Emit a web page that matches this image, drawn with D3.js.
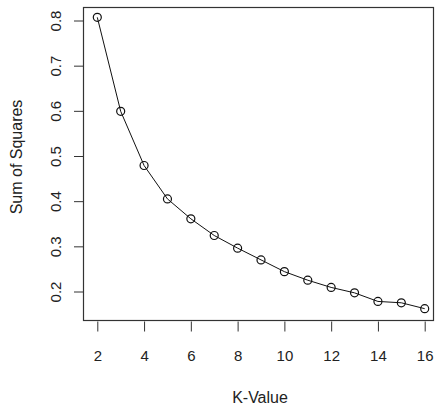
<!DOCTYPE html>
<html>
<head>
<meta charset="utf-8">
<script src="https://cdn.jsdelivr.net/npm/d3@7"></script>
<style>
  body { margin: 0; background: #fff; }
  svg { display: block; }
  text { font-family: "Liberation Sans", Arial, sans-serif; fill: #222; }
</style>
</head>
<body>
<svg id="chart" width="435" height="406"></svg>
<script>
// elbow curve values
const kValues = [2, 3, 4, 5, 6, 7, 8, 9, 10, 11, 12, 13, 14, 15, 16];
const sumSquares = [0.807, 0.599, 0.479, 0.405, 0.361, 0.324, 0.296, 0.270, 0.244, 0.225, 0.209, 0.197, 0.178, 0.175, 0.162];
const xTicks = [2, 4, 6, 8, 10, 12, 14, 16];
const yTicks = [0.2, 0.3, 0.4, 0.5, 0.6, 0.7, 0.8];

const svg = d3.select('#chart');

// plot box (right edge runs off the picture like in the reference)
const box = {left: 83.5, right: 433.5, top: 7.5, bottom: 320.5};

const x = d3.scaleLinear()
    .domain([2, 16])
    .range([97.3, 424.7]);

const y = d3.scaleLinear()
    .domain([0.2, 0.8])
    .range([291.5, 20.5]);

//x axis ticks below the box
const xAxis = d3.axisBottom(x)
    .tickValues(xTicks)
    .tickSize(10)
    .tickPadding(19)
    .tickFormat(d3.format('d'));

const gx = svg.append('g')
    .attr('transform', `translate(0,${box.bottom + 1})`)
    .call(xAxis);
gx.select('.domain').remove();
gx.selectAll('line').attr('stroke', '#333');
gx.selectAll('text').attr('font-size', 15).attr('fill', '#222');

// y axis, labels turned sideways like R does
const yAxis = d3.axisLeft(y)
    .tickValues(yTicks)
    .tickSize(9)
    .tickPadding(0)
    .tickFormat(d3.format('.1f'));

const gy = svg.append('g')
    .attr('transform', `translate(${box.left - 0.5},0)`)
    .call(yAxis);
gy.select('.domain').remove();
gy.selectAll('line').attr('stroke', '#333');
gy.selectAll('text')
    .attr('font-size', 15)
    .attr('fill', '#222')
    .attr('x', 0)
    .attr('y', 0)
    .attr('dy', 0)
    .attr('text-anchor', 'middle')
    .attr('transform', 'translate(-22,0) rotate(-90)');

// box round the plot
svg.append('rect')
    .attr('x', box.left)
    .attr('y', box.top)
    .attr('width', box.right - box.left)
    .attr('height', box.bottom - box.top)
    .attr('fill', 'none')
    .attr('stroke', '#333')
    .attr('stroke-width', 1.2);

const points = kValues.map((k, i) => ({k: k, v: sumSquares[i]}));

const line = d3.line()
    .x(d => x(d.k))
    .y(d => y(d.v));

svg.append('path')
    .datum(points)
    .attr('d', line)
    .attr('fill', 'none')
    .attr('stroke', '#111')
    .attr('stroke-width', 1);

svg.selectAll('.pt')
    .data(points)
    .enter().append('circle')
    .attr('class', 'pt')
    .attr('cx', d => x(d.k))
    .attr('cy', d => y(d.v))
    .attr('r', 4)
    .attr('fill', 'none')
    .attr('stroke', '#111')
    .attr('stroke-width', 1.2);

// axis titles
svg.append('text')
    .attr('x', 260)
    .attr('y', 403)
    .attr('text-anchor', 'middle')
    .attr('font-size', 16)
    .text('K-Value');

svg.append('text')
    .attr('transform', 'translate(22,157) rotate(-90)')
    .attr('text-anchor', 'middle')
    .attr('font-size', 16)
    .text('Sum of Squares');
</script>
</body>
</html>
